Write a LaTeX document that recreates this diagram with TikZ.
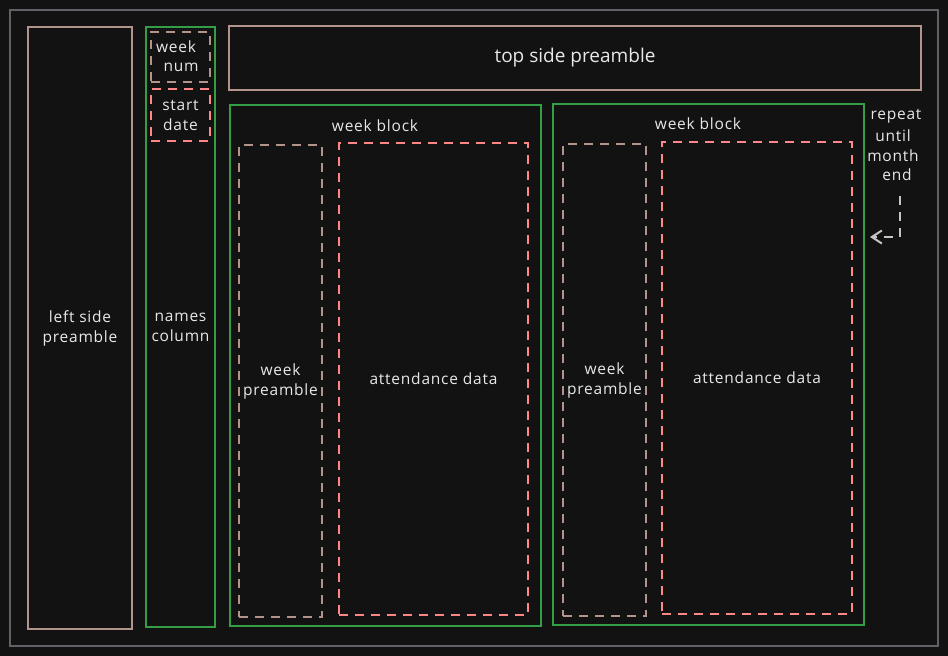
\documentclass[tikz,border=0pt]{standalone}
\usepackage{fontspec}
\setmainfont{Open Sans}
\newfontfamily\spacedfont[LetterSpace=5]{Open Sans}
\usetikzlibrary{arrows.meta}
\definecolor{bg}{HTML}{121212}
\definecolor{outerc}{HTML}{5E6165}
\definecolor{tanc}{RGB}{178,148,138}
\definecolor{greenc}{RGB}{52,158,70}
\definecolor{redc}{RGB}{255,135,135}
\definecolor{txt}{HTML}{E8E8E8}
\tikzset{
  box/.style={draw=#1, line width=2.3pt, minimum width=0pt, minimum height=0pt, inner sep=0pt, text=txt, align=center},
  dbox/.style={box=#1, dash pattern=on 9pt off 7pt},
  txtf/.style={font=\spacedfont\fontsize{15.5}{20}\selectfont},
  lbl/.style={text=txt, inner sep=0pt, align=center, txtf},
  arr/.style={draw=txt!85!black, line width=2pt, dash pattern=on 9pt off 7pt, -{Straight Barb[length=10pt,width=13pt,line width=2pt]}}
}
\begin{document}
\begin{tikzpicture}[x=1pt,y=-1pt]
\useasboundingbox (0,0) rectangle (948,656);
\fill[bg] (0,0) rectangle (948,656);
\node[draw=outerc, line width=1.5pt, minimum width=928pt, minimum height=636pt, inner sep=0pt] (outer) at (474,328) {};
% left side preamble
\node[box=tanc, minimum width=104pt, minimum height=602pt, txtf] (left) at (80,328) {left side\\preamble};
% names column
\node[box=greenc, minimum width=69pt, minimum height=600pt, txtf] (names) at (180.5,327) {names\\column};
\node[dbox=tanc, minimum width=59pt, minimum height=50pt] (weeknum) at (180.5,57) {};
\node[lbl] (wk) at (176,47) {week};
\node[lbl] (num) at (181,67) {num};
\node[dbox=redc, minimum width=59pt, minimum height=52pt, txtf] (start) at (180.5,115) {start\\date};
% top side preamble
\node[box=tanc, minimum width=692pt, minimum height=64pt, font=\fontsize{19}{24}\selectfont] (top) at (575,58) {top side preamble};
% week block 1
\node[box=greenc, minimum width=311pt, minimum height=521pt] (wb1) at (385.5,365.5) {};
\node[lbl] (wb1l) at (375,126) {week block};
\node[dbox=tanc, minimum width=83pt, minimum height=472pt, txtf] (wp1) at (280.5,381) {week\\preamble};
\node[dbox=redc, minimum width=189pt, minimum height=472pt, txtf] (ad1) at (433.5,379) {attendance data};
% week block 2
\node[box=greenc, minimum width=311pt, minimum height=521pt] (wb2) at (708.5,364.5) {};
\node[lbl] (wb2l) at (698,124) {week block};
\node[dbox=tanc, minimum width=83pt, minimum height=472pt, txtf] (wp2) at (604.5,380) {week\\preamble};
\node[dbox=redc, minimum width=190pt, minimum height=472pt, txtf] (ad2) at (757,378) {attendance data};
% repeat note
\node[lbl] (rep1) at (896,116) {repeat};
\node[lbl] (rep2) at (893,136) {until};
\node[lbl] (rep3) at (893,156) {month};
\node[lbl] (rep4) at (897,175) {end};
\coordinate (as) at (900,196);
\coordinate (ae) at (870,237);
\draw[arr] (as) |- (ae);
\end{tikzpicture}
\end{document}
